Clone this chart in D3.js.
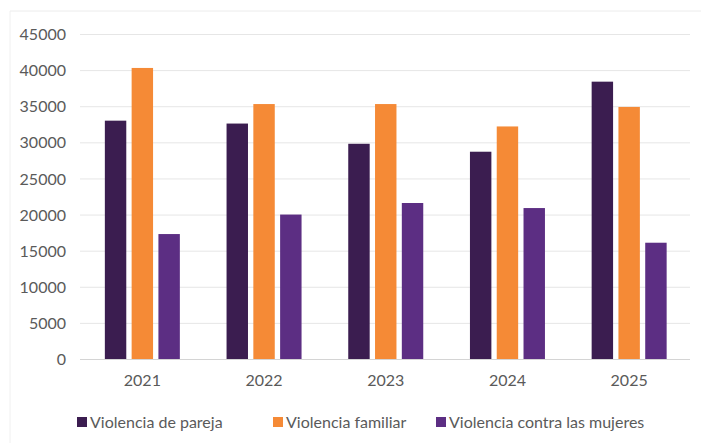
<!DOCTYPE html>
<html>
<head>
<meta charset="utf-8">
<script src="https://cdn.jsdelivr.net/npm/d3@7/dist/d3.min.js"></script>
<style>
  html, body { margin: 0; padding: 0; background: #fff; }
  svg { display: block; }
  text { font-family: Lato, "Open Sans", sans-serif; fill: #5a5a5a; }
</style>
</head>
<body>
<svg id="chart" width="701" height="443"></svg>
<script>
const years = ["2021", "2022", "2023", "2024", "2025"];
const seriesNames = ["Violencia de pareja", "Violencia familiar", "Violencia contra las mujeres"];
const pareja = [33000, 32600, 29800, 28700, 38400];
const familiar = [40300, 35300, 35300, 32200, 34900];
const mujeres = [17300, 20000, 21600, 20900, 16100];
const yTicks = [0, 5000, 10000, 15000, 20000, 25000, 30000, 35000, 40000, 45000];
const colors = ["#3b1d50", "#f58a36", "#5c2e83"];

const seriesValues = [pareja, familiar, mujeres];
const svg = d3.select("#chart");

// faint scan frame
svg.append("line").attr("x1", 10).attr("x2", 701).attr("y1", 11).attr("y2", 11)
  .attr("stroke", "#ececec").attr("stroke-width", 1);
svg.append("line").attr("x1", 10).attr("x2", 10).attr("y1", 11).attr("y2", 443)
  .attr("stroke", "#f0f0f0").attr("stroke-width", 1);

const y = d3.scaleLinear().domain([0, 45000]).range([359, 34]);
const x = d3.scaleBand().domain(years).range([81.5, 690]).padding(0);
const groupW = 75;
const xi = d3.scaleBand().domain(seriesNames).range([0, groupW]).paddingInner(0.2).paddingOuter(0);

// gridlines
svg.append("g").selectAll("line").data(yTicks).join("line")
  .attr("x1", 80).attr("x2", 690)
  .attr("y1", d => y(d) + 0.5).attr("y2", d => y(d) + 0.5)
  .attr("stroke", d => d === 0 ? "#d4d4d4" : "#e6e6e6").attr("stroke-width", 1);

// y axis labels
const yAxis = d3.axisLeft(y).tickValues(yTicks).tickSize(0).tickPadding(0).tickFormat(d3.format("d"));
const gy = svg.append("g").attr("transform", "translate(66,0)").call(yAxis);
gy.select(".domain").remove();
gy.selectAll("text").style("font-size", "16px").attr("fill", "#5a5a5a").attr("dy", "0.35em");

// bars
const groups = svg.append("g").selectAll("g").data(years).join("g")
  .attr("transform", d => `translate(${x(d) + (x.bandwidth() - groupW) / 2},0)`);
groups.selectAll("rect")
  .data((d, i) => seriesNames.map((s, k) => ({ s, k, v: seriesValues[k][i] })))
  .join("rect")
  .attr("x", d => xi(d.s))
  .attr("width", xi.bandwidth())
  .attr("y", d => y(d.v))
  .attr("height", d => y(0) - y(d.v))
  .attr("fill", d => colors[d.k]);

// x axis labels
const xAxis = d3.axisBottom(x).tickSize(0).tickPadding(0);
const gx = svg.append("g").attr("transform", "translate(0,375)").call(xAxis);
gx.select(".domain").remove();
gx.selectAll("text").style("font-size", "16px").attr("fill", "#5a5a5a").attr("dy", "0.71em");

// legend
const legendX = [77, 273, 436];
const leg = svg.append("g").selectAll("g").data(seriesNames).join("g")
  .attr("transform", (d, i) => `translate(${legendX[i]},422)`);
leg.append("rect").attr("x", 0).attr("y", -5).attr("width", 10).attr("height", 10)
  .attr("fill", (d, i) => colors[i]);
leg.append("text").attr("x", 13).attr("y", 0).attr("dy", "0.35em")
  .style("font-size", "16px").attr("fill", "#5a5a5a").text(d => d);
</script>
</body>
</html>
